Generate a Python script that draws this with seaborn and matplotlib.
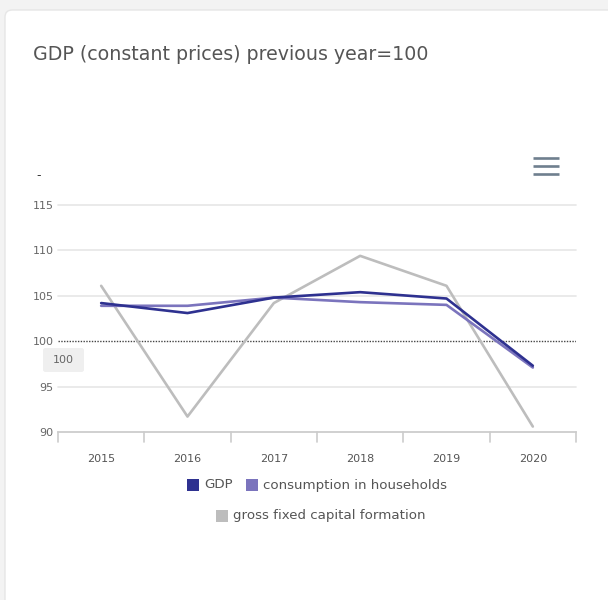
import pandas as pd
import seaborn as sns
from matplotlib import pyplot as plt
from matplotlib.patches import FancyBboxPatch, Rectangle
from matplotlib.lines import Line2D

years = ['2015', '2016', '2017', '2018', '2019', '2020']
gdp = [104.2, 103.1, 104.8, 105.4, 104.7, 97.3]
consumption = [103.9, 103.9, 104.8, 104.3, 104.0, 97.1]
capital = [106.1, 91.7, 104.2, 109.4, 106.1, 90.6]
series_names = ['GDP', 'consumption in households',
                'gross fixed capital formation']
colors = ['#2e3190', '#7b74bd', '#bdbdbd']
y_ticks = [90, 95, 100, 105, 110, 115]

W, H = 608, 600


def px_x(x):
    return x / W


def px_y(y):
    return 1 - y / H


def main():
    sns.set_style('white')
    plt.rcParams['font.family'] = ['DejaVu Sans']

    df = pd.DataFrame({
        'year': years * 3,
        'value': gdp + consumption + capital,
        'series': [series_names[0]] * 6 + [series_names[1]] * 6 +
                  [series_names[2]] * 6,
    })

    fig = plt.figure(figsize=(6.08, 6.00), dpi=100)
    fig.patch.set_facecolor('#f3f3f3')
    card = FancyBboxPatch((px_x(5), -0.1), 1.2, px_y(10) + 0.1,
                          boxstyle='round,pad=0,rounding_size=0.012',
                          transform=fig.transFigure, facecolor='white',
                          edgecolor='#e6e6e6', linewidth=1.0, zorder=-10)
    fig.patches.append(card)

    ax = fig.add_axes([px_x(58), px_y(432), px_x(576 - 58),
                       (432 - 205) / H])
    ax.set_facecolor('none')
    ax.set_zorder(5)

    # grid lines and dotted reference
    for t in y_ticks:
        if t == 100:
            continue
        ax.axhline(t, color='#e6e6e6', lw=1.2, zorder=1, clip_on=False)
    ax.axhline(100, color='#444444', lw=1.0, ls=(0, (1, 1)), zorder=2)

    sns.lineplot(data=df, x='year', y='value', hue='series',
                 hue_order=series_names[::-1],
                 palette=dict(zip(series_names, colors)), ax=ax,
                 linewidth=1.9, legend=False, zorder=3, sort=False)

    ax.set_xlim(-0.5, 5.5)
    ax.set_ylim(90, 115)
    ax.set_yticks(y_ticks)
    ax.set_yticklabels([str(t) for t in y_ticks], color='#666666',
                       fontsize=8)
    ax.set_xticks(range(6))
    ax.set_xticklabels(years, color='#555555', fontsize=8)
    ax.tick_params(axis='x', length=0, pad=16)
    ax.tick_params(axis='y', length=0, pad=3)
    ax.set_xlabel('')
    ax.set_ylabel('')
    for s in ['top', 'right', 'left']:
        ax.spines[s].set_visible(False)
    ax.spines['bottom'].set_color('#cccccc')
    ax.spines['bottom'].set_linewidth(1.2)
    for b in range(7):
        ax.plot([b - 0.5, b - 0.5], [90, 88.9], color='#cccccc', lw=1.2,
                clip_on=False, zorder=1)

    fig.text(px_x(33), px_y(55), 'GDP (constant prices) previous year=100',
             fontsize=13.7, color='#555555', va='center', ha='left')
    fig.text(px_x(36), px_y(176), '-', fontsize=9, color='#333333',
             va='center', ha='left')

    # menu icon
    for yy in [158, 166, 174]:
        fig.lines.append(Line2D([px_x(533), px_x(559)], [px_y(yy)] * 2,
                                transform=fig.transFigure, color='#6f7f8e',
                                lw=1.9, solid_capstyle='butt'))

    # label of the 100 line
    fig.patches.append(FancyBboxPatch(
        (px_x(43), px_y(372)), px_x(41), 24 / H,
        boxstyle='round,pad=0,rounding_size=0.004',
        transform=fig.transFigure, facecolor='#efefef', edgecolor='none'))
    fig.text(px_x(63.5), px_y(360), '100', fontsize=8, color='#666666',
             ha='center', va='center')

    # legend
    def legend_item(x, y, color, label):
        fig.patches.append(Rectangle((px_x(x), px_y(y + 6)), px_x(12),
                                     12 / H, transform=fig.transFigure,
                                     facecolor=color, edgecolor='none'))
        fig.text(px_x(x + 17), px_y(y), label, fontsize=9.6,
                 color='#555555', ha='left', va='center')

    legend_item(187, 485, colors[0], series_names[0])
    legend_item(246, 485, colors[1], series_names[1])
    legend_item(216, 516, colors[2], series_names[2])

    fig.savefig('out.png', dpi=100, facecolor=fig.get_facecolor())


if __name__ == '__main__':
    main()
